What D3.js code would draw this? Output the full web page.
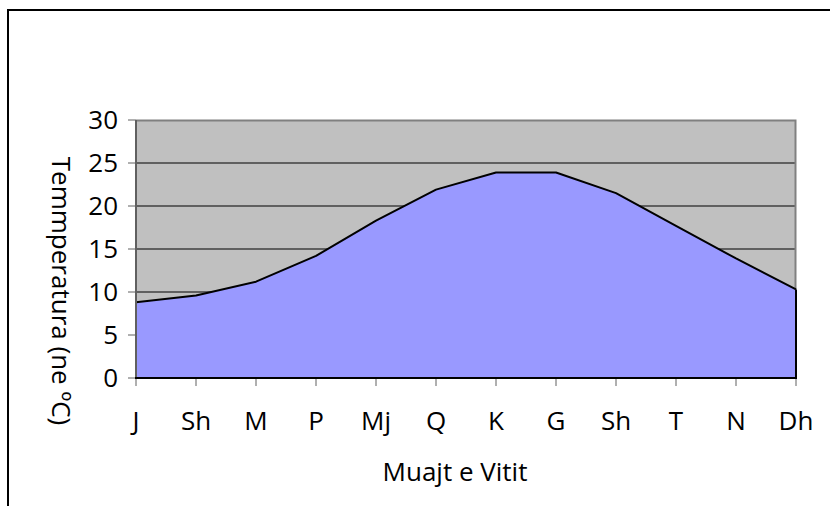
<!DOCTYPE html>
<html>
<head>
<meta charset="utf-8">
<script src="https://cdn.jsdelivr.net/npm/d3@7"></script>
<style>
  body { margin: 0; background: #fff; }
  svg text { font-family: "Open Sans", sans-serif; fill: #000; }
</style>
</head>
<body>
<div id="chart"></div>
<script>
// muajt dhe temperaturat mesatare
var months = ["J", "Sh", "M", "P", "Mj", "Q", "K", "G", "Sh", "T", "N", "Dh"];
var temps = [8.8, 9.6, 11.2, 14.2, 18.3, 21.9, 23.9, 23.9, 21.5, 17.7, 13.9, 10.3];
var yTicks = [0, 5, 10, 15, 20, 25, 30];

var width = 830, height = 506;
var plot = { left: 136, right: 796, top: 120, bottom: 378 };

var svg = d3.select("#chart").append("svg")
    .attr("width", width)
    .attr("height", height);

// korniza e jashtme
svg.append("rect")
    .attr("x", 8).attr("y", 10)
    .attr("width", 860).attr("height", 540)
    .style("fill", "none")
    .style("stroke", "#000")
    .style("stroke-width", 2);

var idx = d3.range(months.length);
var x = d3.scalePoint().domain(idx).range([plot.left, plot.right]);
var y = d3.scaleLinear().domain([0, 30]).range([plot.bottom, plot.top]);

// sfondi gri
svg.append("rect")
    .attr("x", plot.left).attr("y", plot.top)
    .attr("width", plot.right - plot.left)
    .attr("height", plot.bottom - plot.top)
    .style("fill", "#c0c0c0");

// vijat e rrjetit
svg.append("g").selectAll("line")
    .data(yTicks.filter(function (d) { return d > 0 && d < 30; }))
    .enter().append("line")
    .attr("x1", plot.left).attr("x2", plot.right)
    .attr("y1", function (d) { return y(d); })
    .attr("y2", function (d) { return y(d); })
    .style("stroke", "#000")
    .style("stroke-width", 1);

// kufiri i sipërm dhe djathtas
svg.append("path")
    .attr("d", "M" + plot.left + "," + (plot.top + 0.5) + "H" + (plot.right - 0.5) + "V" + plot.bottom)
    .style("fill", "none")
    .style("stroke", "#808080")
    .style("stroke-width", 2);

// zona
var area = d3.area()
    .x(function (d, i) { return x(i); })
    .y0(y(0))
    .y1(function (d) { return y(d); });
svg.append("path")
    .datum(temps)
    .attr("d", area)
    .style("fill", "#9999ff");

var line = d3.line()
    .x(function (d, i) { return x(i); })
    .y(function (d) { return y(d); });
svg.append("path")
    .datum(temps)
    .attr("d", line)
    .style("fill", "none")
    .style("stroke", "#000")
    .style("stroke-width", 2)
    .style("stroke-linejoin", "round");
svg.append("line")
    .attr("x1", plot.right).attr("x2", plot.right)
    .attr("y1", y(temps[temps.length - 1])).attr("y2", plot.bottom)
    .style("stroke", "#000").style("stroke-width", 2);

// boshti Y
var yAxis = svg.append("g");
yAxis.append("line")
    .attr("x1", plot.left).attr("x2", plot.left)
    .attr("y1", plot.top).attr("y2", plot.bottom)
    .style("stroke", "#606060").style("stroke-width", 2);
yAxis.selectAll(".tick").data(yTicks).enter().append("line")
    .attr("x1", plot.left - 8).attr("x2", plot.left)
    .attr("y1", function (d) { return y(d); })
    .attr("y2", function (d) { return y(d); })
    .style("stroke", "#606060").style("stroke-width", 1);
yAxis.selectAll("text").data(yTicks).enter().append("text")
    .attr("x", 118)
    .attr("y", function (d) { return y(d); })
    .attr("dy", "0.36em")
    .attr("text-anchor", "end")
    .style("font-size", "26px")
    .text(function (d) { return d; });

// boshti X
var xAxis = svg.append("g");
xAxis.selectAll("line").data(idx).enter().append("line")
    .attr("x1", function (d) { return x(d); })
    .attr("x2", function (d) { return x(d); })
    .attr("y1", plot.bottom).attr("y2", plot.bottom + 8)
    .style("stroke", "#606060").style("stroke-width", 1);
xAxis.append("line")
    .attr("x1", plot.left - 1).attr("x2", plot.right + 1)
    .attr("y1", plot.bottom).attr("y2", plot.bottom)
    .style("stroke", "#000").style("stroke-width", 2);
xAxis.selectAll("text").data(idx).enter().append("text")
    .attr("x", function (d) { return x(d); })
    .attr("y", 430)
    .attr("text-anchor", "middle")
    .style("font-size", "26px")
    .text(function (d) { return months[d]; });

// titujt e boshteve
svg.append("text")
    .attr("x", 455).attr("y", 481)
    .attr("text-anchor", "middle")
    .style("font-size", "26px")
    .text("Muajt e Vitit");

svg.append("text")
    .attr("transform", "translate(52,291) rotate(90)")
    .attr("text-anchor", "middle")
    .style("font-size", "26px")
    .text("Temmperatura (ne ºC)");
</script>
</body>
</html>
